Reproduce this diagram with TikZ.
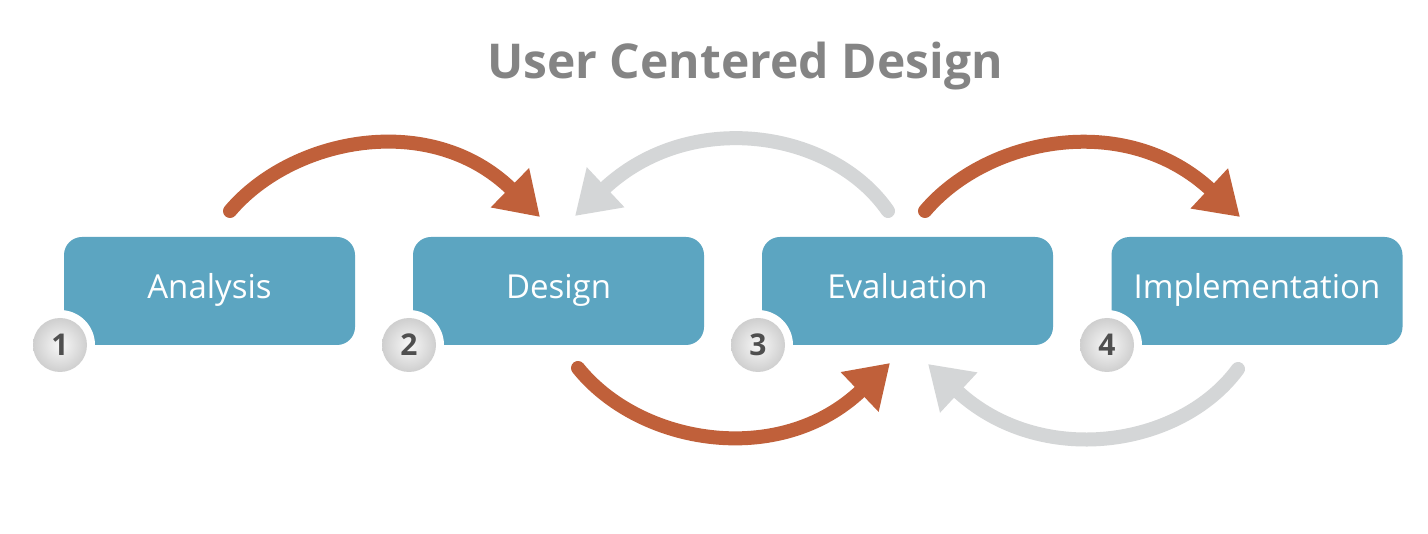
\documentclass[tikz,border=0pt]{standalone}
\usepackage{fontspec}
\setmainfont{Open Sans}
\usetikzlibrary{arrows.meta}
\definecolor{boxblue}{HTML}{5CA5C1}
\definecolor{arrorange}{HTML}{C0603A}
\definecolor{arrgray}{HTML}{D4D6D7}
\definecolor{titlegray}{HTML}{848484}
\definecolor{numgray}{HTML}{4F4F4F}
\tikzset{
  stagebox/.style={fill=boxblue, rounded corners=18pt, minimum width=291pt, minimum height=108pt, inner sep=0pt, text=white, text height=24pt, text depth=8pt, font=\fontsize{33}{36}\selectfont},
  ringcirc/.style={circle, fill=white, minimum size=70pt, inner sep=0pt},
  numcirc/.style={circle, inner color=gray!6, outer color=gray!38, minimum size=54pt, inner sep=0pt, text=numgray, font=\bfseries\fontsize{30}{32}\selectfont},
  orangearr/.style={draw=arrorange, line width=14pt, line cap=round, -{Triangle[length=42pt,width=52pt]}, arrorange},
  grayarr/.style={draw=arrgray, line width=14pt, line cap=round, -{Triangle[length=42pt,width=52pt]}, arrgray},
}
\begin{document}
\begin{tikzpicture}[x=1pt,y=-1pt]
\useasboundingbox (0,0) rectangle (1428,534);
\fill[white] (0,0) rectangle (1428,534);
\node[text=titlegray, font=\bfseries\fontsize{48}{52}\selectfont] (title) at (745,66) {User Centered Design};

\node[stagebox] (analysis) at (209.5,291) {Analysis};
\node[stagebox] (design) at (558.5,291) {Design};
\node[stagebox] (evaluation) at (907.5,291) {Evaluation};
\node[stagebox] (implementation) at (1257,291) {Implementation};

\node[ringcirc] (r1) at (60,345) {};
\node[ringcirc] (r2) at (409,345) {};
\node[ringcirc] (r3) at (758,345) {};
\node[ringcirc] (r4) at (1107,345) {};
\node[numcirc] (n1) at (60,345) {1};
\node[numcirc] (n2) at (409,345) {2};
\node[numcirc] (n3) at (758,345) {3};
\node[numcirc] (n4) at (1107,345) {4};

\coordinate (a1s) at (230,211);
\coordinate (a1e) at (540,217);
\coordinate (g1s) at (888,211);
\coordinate (g1e) at (575,216);
\coordinate (a3s) at (925,211);
\coordinate (a3e) at (1240,217);
\coordinate (a2s) at (578,368);
\coordinate (a2e) at (890,363);
\coordinate (g2s) at (1238,369);
\coordinate (g2e) at (928,364);

\draw[orangearr] (a1s) .. controls (292,138) and (430,110) .. (a1e);
\draw[grayarr] (g1s) .. controls (832,130) and (690,108) .. (g1e);
\draw[orangearr] (a3s) .. controls (987,138) and (1125,110) .. (a3e);
\draw[orangearr] (a2s) .. controls (640,445) and (780,468) .. (a2e);
\draw[grayarr] (g2s) .. controls (1180,448) and (1040,468) .. (g2e);
\end{tikzpicture}
\end{document}
